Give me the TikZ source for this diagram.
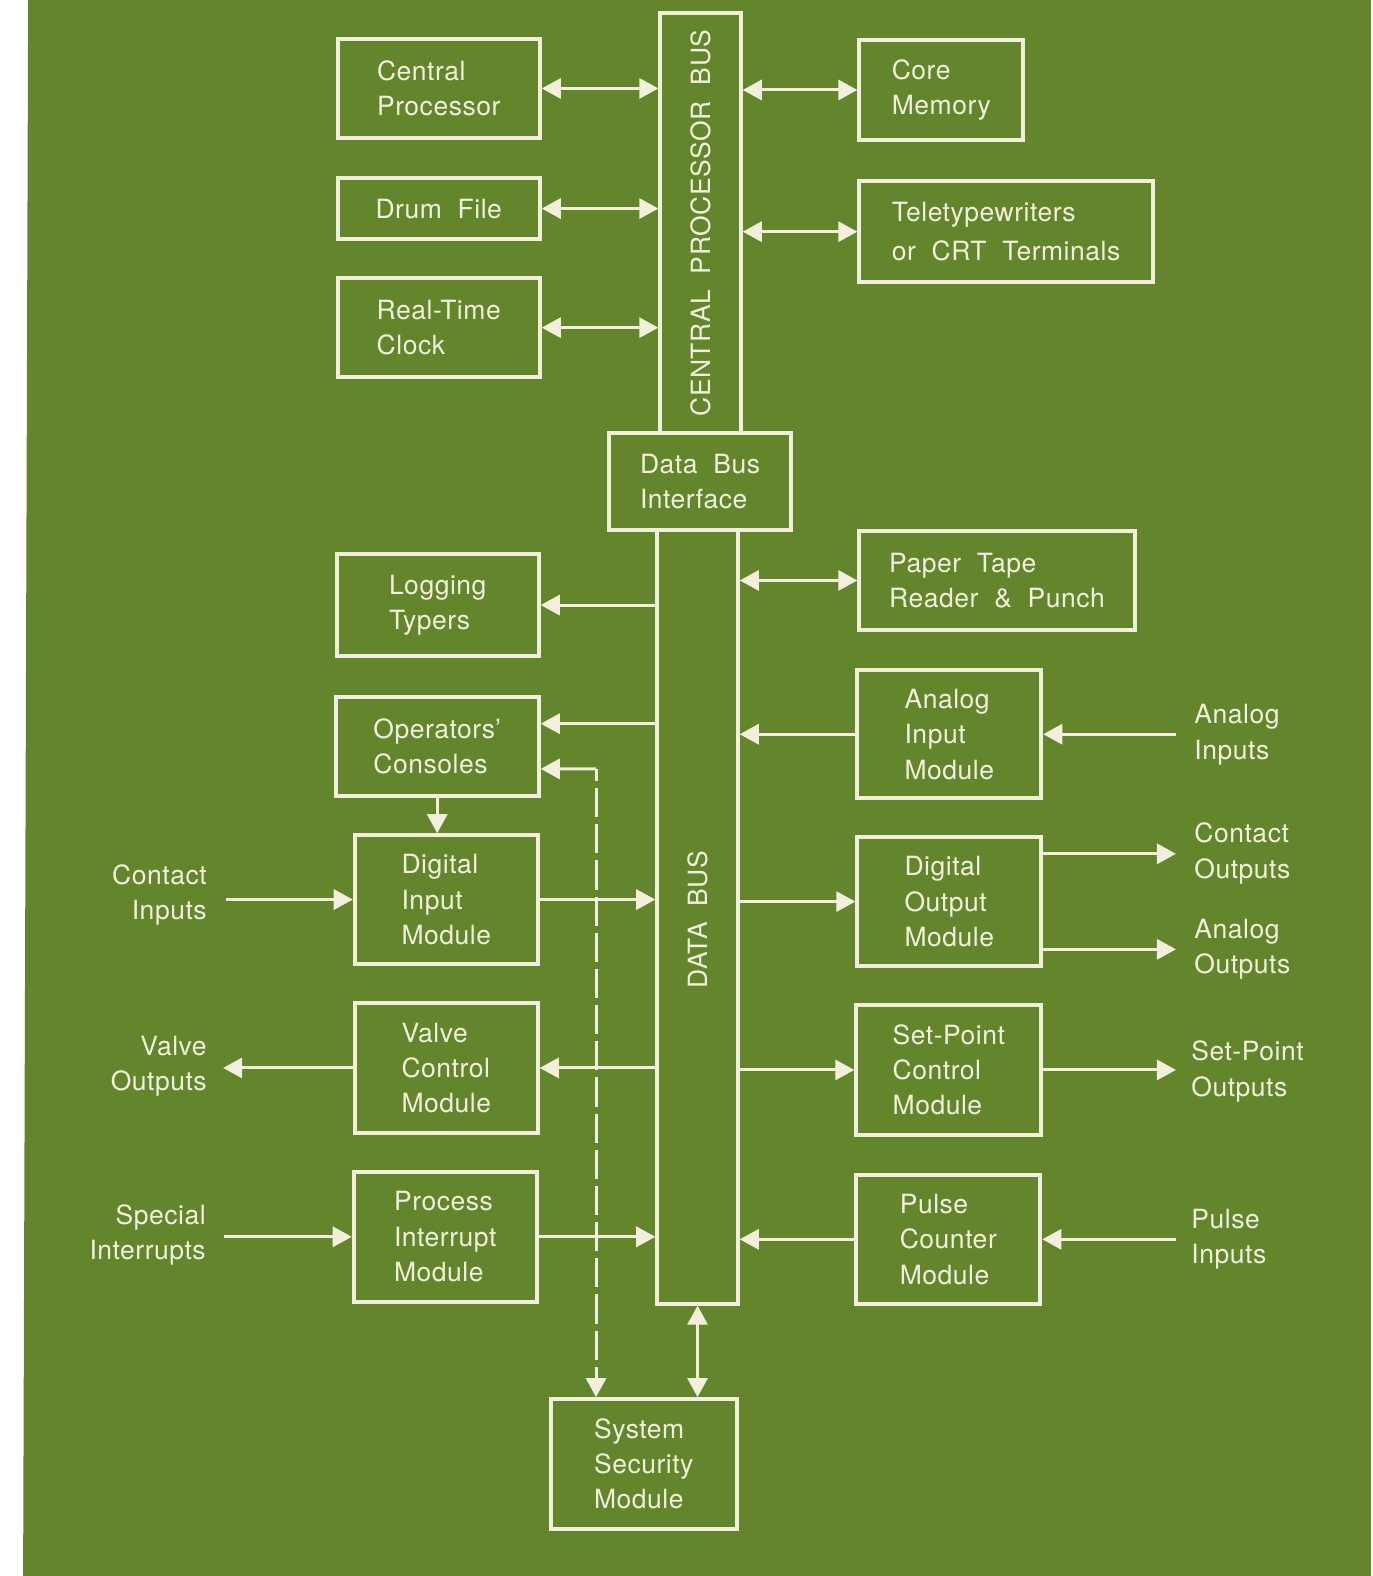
\documentclass[tikz,border=0pt]{standalone}
\usepackage{fontspec}
\setmainfont{TeX Gyre Heros}[LetterSpace=2,WordSpace=2]
\usetikzlibrary{arrows.meta}
\definecolor{bg}{RGB}{99,134,45}
\definecolor{fg}{RGB}{242,240,220}
\newcommand{\px}{0.02cm}

\begin{document}
\begin{tikzpicture}[x=\px, y=-\px, >={Triangle[length=0.38cm,width=0.4cm]},
  box/.style args={#1/#2}{draw=fg, line width=0.08cm, minimum width=#1*\px,
    minimum height=#2*\px, align=left, text=fg, inner sep=0pt},
  lbl/.style={text=fg, inner sep=0pt},
  link/.style={draw=fg, line width=0.06cm},
  font=\fontsize{15}{20}\selectfont]
  % Background
  \fill[white] (0,0) rectangle (1366,1568);
  \fill[bg] (28,0) -- (1364,0) -- (1364,1568) -- (23,1568) -- cycle;
  \useasboundingbox (0,0) rectangle (1366,1568);

  % Buses
  \node[box=80/418] (cpubus) at (697,222) {};
  \node[lbl, rotate=90] (cpubuslbl) at (cpubus) {CENTRAL PROCESSOR BUS};
  \node[box=80/770] (databus) at (694,912) {};
  \node[lbl, rotate=90] (databuslbl) at (694,915) {DATA BUS};
  \node[box=181/96] (dbi) at (696.5,479) {Data Bus\\Interface};

  % Create nodes
  \node[box=201/98] (cpu) at (436.5,88) {Central\\Processor};
  \node[box=201/61] (drum) at (436.5,207.5) {Drum File};
  \node[box=201/98] (rtc) at (436.5,326) {Real-Time\\Clock};
  \node[box=163/99] (core) at (936.5,89.5) {Core\\Memory};
  \node[box=292/101] (tty) at (1001,230.5) {Teletypewriters\\[2pt]or CRT Terminals};
  \node[box=274/99] (tape) at (992,577.5) {Paper Tape\\Reader \& Punch};
  \node[box=201/102] (logging) at (435.5,602) {Logging\\Typers};
  \node[box=202/99] (consoles) at (435,742.5) {Operators’\\Consoles};
  \node[box=182/128] (dim) at (444,895) {Digital\\Input\\Module};
  \node[box=182/129] (vcm) at (444,1062.5) {Valve\\Control\\Module};
  \node[box=182/129] (pim) at (443,1230.5) {Process\\Interrupt\\Module};
  \node[box=185/129] (ssm) at (640.5,1456.5) {System\\Security\\Module};
  \node[box=183/127] (aim) at (944.5,730.5) {Analog\\Input\\Module};
  \node[box=183/128] (dom) at (944.5,897) {Digital\\Output\\Module};
  \node[box=184/129] (spc) at (944,1064.5) {Set-Point\\Control\\Module};
  \node[box=183/128] (pcm) at (943.5,1233) {Pulse\\Counter\\Module};

  % Outside labels
  \node[lbl, anchor=east, align=right] (cin) at (206,890.5) {Contact\\Inputs};
  \node[lbl, anchor=east, align=right] (vout) at (206,1060.5) {Valve\\Outputs};
  \node[lbl, anchor=east, align=right] (sint) at (205,1229) {Special\\Interrupts};
  \node[lbl, anchor=west, align=left] (ain) at (1188,731) {Analog\\Inputs};
  \node[lbl, anchor=west, align=left] (cout) at (1188,849) {Contact\\Outputs};
  \node[lbl, anchor=west, align=left] (aout) at (1188,944.5) {Analog\\Outputs};
  \node[lbl, anchor=west, align=left] (spo) at (1185,1066) {Set-Point\\Outputs};
  \node[lbl, anchor=west, align=left] (pin) at (1185,1233) {Pulse\\Inputs};

  % Free ends
  \coordinate (cinS) at (225,895);
  \coordinate (voutE) at (222,1062.5);
  \coordinate (sintS) at (223,1230.5);
  \coordinate (ainS) at (1170,730.5);
  \coordinate (coutE) at (1170,849.5);
  \coordinate (aoutE) at (1170,944.5);
  \coordinate (spoE) at (1170,1064.5);
  \coordinate (pinS) at (1170,1233);
  \coordinate (conA) at ([yshift=22.5*\px]consoles.east);
  \coordinate (conB) at ([yshift=-22.5*\px]consoles.east);
  \coordinate (dtop) at (593,765);

  % Central processor bus
  \draw[link, <->] (cpu.east) -- (cpu.east -| cpubus.west);
  \draw[link, <->] (drum.east) -- (drum.east -| cpubus.west);
  \draw[link, <->] (rtc.east) -- (rtc.east -| cpubus.west);
  \draw[link, <->] (cpubus.east |- core.west) -- (core.west);
  \draw[link, <->] (cpubus.east |- tty.west) -- (tty.west);

  % Data bus
  \draw[link, <->] (databus.east |- tape.west) -- (tape.west);
  \draw[link, ->] (databus.west |- logging.east) -- (logging.east);
  \draw[link, ->] (databus.west |- conA) -- (conA);
  \draw[link, ->] (consoles.south) -- (consoles.south |- dim.north);
  \draw[link, ->] (dim.east) -- (dim.east -| databus.west);
  \draw[link, ->] (databus.west |- vcm.east) -- (vcm.east);
  \draw[link, ->] (pim.east) -- (pim.east -| databus.west);
  \draw[link, ->] (aim.west) -- (aim.west -| databus.east);
  \draw[link, ->] (databus.east |- dom.west) -- (dom.west);
  \draw[link, ->] (databus.east |- spc.west) -- (spc.west);
  \draw[link, ->] (pcm.west) -- (pcm.west -| databus.east);
  \draw[link, <->] (databus.south) -- (databus.south |- ssm.north);

  % Inputs and outputs
  \draw[link, ->] (cinS) -- (dim.west);
  \draw[link, ->] (vcm.west) -- (voutE);
  \draw[link, ->] (sintS) -- (pim.west);
  \draw[link, ->] (ainS) -- (aim.east);
  \draw[link, ->] (dom.east |- coutE) -- (coutE);
  \draw[link, ->] (dom.east |- aoutE) -- (aoutE);
  \draw[link, ->] (spc.east) -- (spoE);
  \draw[link, ->] (pinS) -- (pcm.east);

  % Security line
  \draw[link, ->] (dtop) -- (conB);
  \draw[link, ->, dash pattern=on 0.58cm off 0.14cm, dash phase=0.34cm]
    (dtop) -- (dtop |- ssm.north);
\end{tikzpicture}
\end{document}
